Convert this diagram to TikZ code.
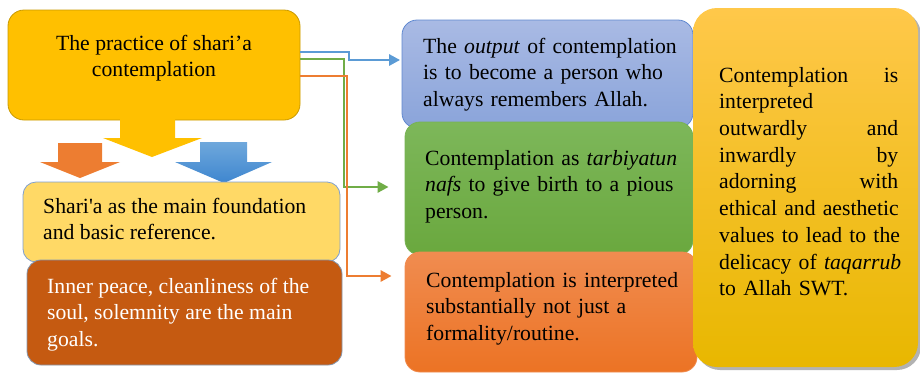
\documentclass[tikz,border=0pt]{standalone}
\usepackage{fontspec}
\setmainfont{Liberation Serif}
\usetikzlibrary{shadows,arrows.meta}
\setlength\parindent{0pt}
\definecolor{gold}{HTML}{FFC000}
\definecolor{golddark}{HTML}{C99A00}
\definecolor{lyellow}{HTML}{FFD966}
\definecolor{lyellowline}{HTML}{7F9FCF}
\definecolor{rust}{HTML}{C55A11}
\definecolor{rustline}{HTML}{8497B0}
\definecolor{bluetop}{HTML}{A9BAE4}
\definecolor{bluebot}{HTML}{8AA4DA}
\definecolor{blueline}{HTML}{5F88D0}
\definecolor{greentop}{HTML}{7DB75A}
\definecolor{greenbot}{HTML}{6AA83E}
\definecolor{greenline}{HTML}{78B254}
\definecolor{orangetop}{HTML}{F08C50}
\definecolor{orangebot}{HTML}{EC7324}
\definecolor{righttop}{HTML}{FFC84A}
\definecolor{rightbot}{HTML}{E8B700}
\definecolor{arrblue}{HTML}{5B9BD5}
\definecolor{arrgreen}{HTML}{70AD47}
\definecolor{arrorange}{HTML}{ED7D31}
\definecolor{barrowtop}{HTML}{6FA8DC}
\definecolor{barrowbot}{HTML}{3E86CF}
\newcommand\jl[1]{\makebox[\hsize][s]{#1}}
\begin{document}
\begin{tikzpicture}[x=1pt,y=-1pt,
  basebox/.style={rectangle, inner sep=0pt, line width=0.8pt},
  txt/.style={inner sep=0pt, anchor=north west, align=left,
    font=\fontsize{21.7}{26.7}\selectfont},
  conn/.style={line width=2.8pt, -{Triangle[length=11pt,width=11pt]}}
]
\useasboundingbox (0,0) rectangle (920,373);

% top-left box
\node[basebox, minimum width=292, minimum height=110, rounded corners=16,
  fill=gold, draw=golddark] (prac) at (154,65) {};

% left block arrows
\fill[arrorange] (58,143) -- (102,143) -- (102,162) -- (120,162) -- (80,178)
  -- (40,162) -- (58,162) -- cycle;
\shade[top color=barrowtop, bottom color=barrowbot] (200,142) -- (247,142)
  -- (247,162) -- (272,162) -- (224,183) -- (175,162) -- (200,162) -- cycle;
\fill[gold] (120,117) -- (175,117) -- (175,138) -- (202,138) -- (152,157)
  -- (103,138) -- (120,138) -- cycle;

% left lower boxes
\node[basebox, minimum width=317, minimum height=80, rounded corners=13,
  fill=lyellow, draw=lyellowline] (shar) at (181.5,222) {};
\node[basebox, minimum width=315, minimum height=105, rounded corners=14,
  fill=rust, draw=rustline] (inner) at (184.5,312.5) {};

% middle boxes
\node[basebox, minimum width=291, minimum height=108, rounded corners=15,
  top color=bluetop, bottom color=bluebot, draw=blueline] (out) at (547.5,74) {};
\node[basebox, minimum width=288, minimum height=133, rounded corners=15,
  top color=greentop, bottom color=greenbot, draw=greenline] (tarb) at (549,188.5) {};
\node[basebox, minimum width=292, minimum height=120, rounded corners=15,
  top color=orangetop, bottom color=orangebot, draw=orangetop] (subst) at (551,312) {};

% right box
\node[basebox, minimum width=225, minimum height=359, rounded corners=24,
  top color=righttop, middle color=gold, bottom color=rightbot, draw=none,
  drop shadow={shadow xshift=3pt, shadow yshift=-3pt, fill=black, opacity=0.3}]
  (outw) at (805.5,187.5) {};

% connectors
\draw[conn, arrblue] (prac.east |- 0,52) -- (349,52) -- (349,60)
  -- ([xshift=-1.5pt]out.west |- 0,60);
\draw[conn, arrgreen] (prac.east |- 0,59) -- (344,59) -- (344,187)
  -- ([xshift=-16pt]tarb.west |- 0,187);
\draw[conn, arrorange] (prac.east |- 0,76) -- (347,76) -- (347,276)
  -- ([xshift=-13pt]subst.west |- 0,276);

% texts
\node[txt, anchor=north, align=center] (tprac) at (154,31.3)
  {\strut The practice of shari'a\\contemplation};
\node[txt] (tshar) at (43,194.3)
  {\strut Shari\textquotesingle a as the main foundation\\and basic reference.};
\node[txt, text=white] (tinner) at (47,274.3)
  {\strut Inner peace, cleanliness of the\\soul, solemnity are the main\\goals.};
\node[txt, text width=250] (tout) at (423,34.3)
  {\strut\jl{The \emph{output} of contemplation}\\
   \jl{is to become a person who}\\
   always remembers Allah.};
\node[txt, text width=249] (ttarb) at (425,146.3)
  {\strut\jl{Contemplation as \emph{tarbiyatun}}\\
   \jl{\emph{nafs} to give birth to a pious}\\
   person.};
\node[txt, text width=249] (tsubst) at (426,268.3)
  {\strut\jl{Contemplation is interpreted}\\
   \jl{substantially not just a}\\
   formality/routine.};
\node[txt, text width=179] (toutw) at (719,63.3)
  {\strut\jl{Contemplation\hfill is}\\
   interpreted\\
   \jl{outwardly\hfill and}\\
   \jl{inwardly\hfill by}\\
   \jl{adorning\hfill with}\\
   \jl{ethical and aesthetic}\\
   \jl{values to lead to the}\\
   \jl{delicacy of \emph{taqarrub}}\\
   to Allah SWT.};
\end{tikzpicture}
\end{document}
